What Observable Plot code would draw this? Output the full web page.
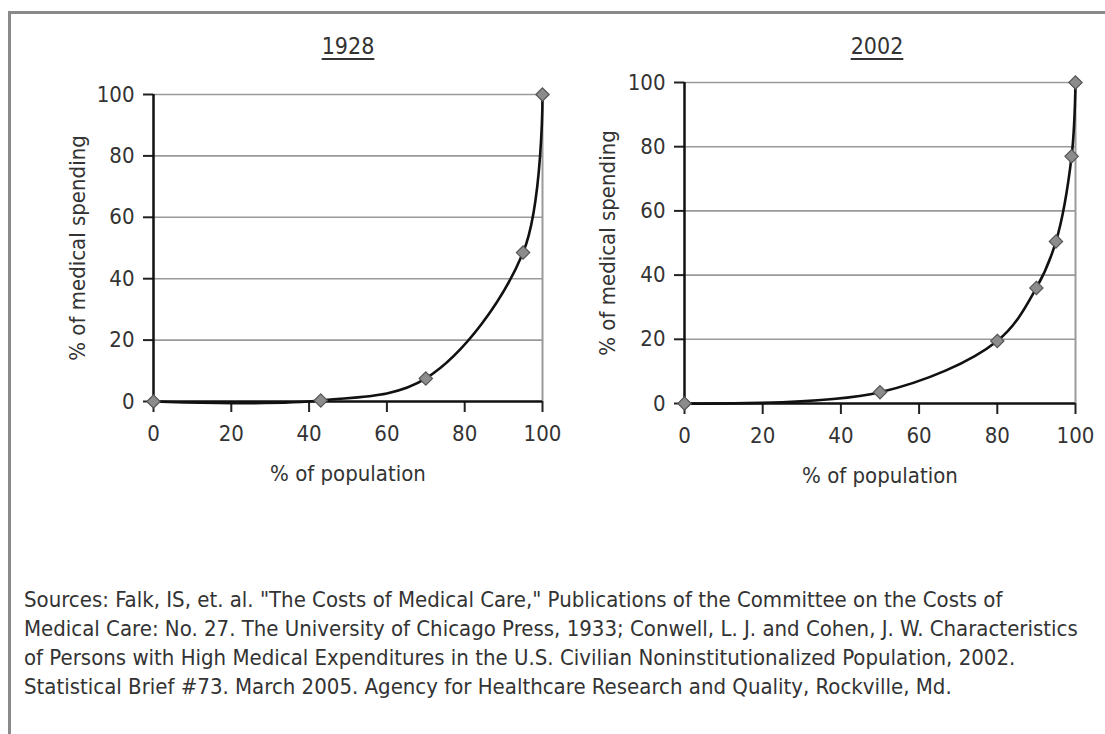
<!DOCTYPE html>
<html>
<head>
<meta charset="utf-8">
<script src="https://cdn.jsdelivr.net/npm/d3@7"></script>
<script src="https://cdn.jsdelivr.net/npm/@observablehq/plot@0.6"></script>
<style>
  html, body { margin: 0; padding: 0; background: #fff; }
  #page {
    position: relative; width: 1105px; height: 734px; overflow: hidden;
    font-family: "DejaVu Sans Condensed", "Liberation Sans Narrow", sans-serif;
    color: #333;
  }
  #frame {
    position: absolute; left: 8px; top: 11px; width: 1200px; height: 800px;
    border-left: 3px solid #8a8a8a; border-top: 3px solid #8a8a8a;
  }
  .panel { position: absolute; top: 0; }
  .title {
    position: absolute; top: 30px; font-size: 23px; text-decoration: underline;
    text-underline-offset: 4px; text-decoration-thickness: 1.5px; transform: translateX(-50%);
    white-space: nowrap; line-height: 32px;
  }
  #caption {
    position: absolute; left: 24px; top: 585px; width: 1080px;
    font-size: 22px; line-height: 29px; color: #333; white-space: nowrap;
  }
</style>
</head>
<body>
<div id="page">
  <div id="frame"></div>
  <div id="left" class="panel" style="left:0px"></div>
  <div id="right" class="panel" style="left:560px"></div>
  <div class="title" style="left:348px">1928</div>
  <div class="title" style="left:877px">2002</div>
  <div id="caption">Sources: Falk, IS, et. al. "The Costs of Medical Care," Publications of the Committee on the Costs of<br>Medical Care: No. 27. The University of Chicago Press, 1933; Conwell, L. J. and Cohen, J. W. Characteristics<br>of Persons with High Medical Expenditures in the U.S. Civilian Noninstitutionalized Population, 2002.<br>Statistical Brief #73. March 2005. Agency for Healthcare Research and Quality, Rockville, Md.</div>
</div>
<script>
// Cumulative share of medical spending against cumulative share of population
const pop1928 = [0, 43, 70, 95, 100];
const spend1928 = [0, 0.3, 7.5, 48.5, 100];
const pop2002 = [0, 50, 80, 90, 95, 99, 100];
const spend2002 = [0, 3.5, 19.5, 36, 50.5, 77, 100];

const xTicks = [0, 20, 40, 60, 80, 100];
const yTicks = [0, 20, 40, 60, 80, 100];
const xLabel = "% of population";
const yLabel = "% of medical spending";

const FONT = '"DejaVu Sans Condensed", "Liberation Sans Narrow", sans-serif';

function lorenzPanel(pop, spend, m) {
  const data = pop.map((p, i) => ({pop: p, spend: spend[i]}));
  return Plot.plot({
    width: m.width,
    height: m.height,
    marginLeft: m.left,
    marginRight: m.right,
    marginTop: m.top,
    marginBottom: m.bottom,
    style: {fontFamily: FONT, fontSize: "22px", color: "#333", background: "transparent", overflow: "visible"},
    x: {domain: [0, 100]},
    y: {domain: [0, 100]},
    marks: [
      Plot.gridY(yTicks.filter(d => d > 0), {stroke: "#9a9a9a", strokeOpacity: 1, strokeWidth: 1.6}),
      Plot.ruleX([100], {y1: 0, y2: 100, stroke: "#9a9a9a", strokeWidth: 2}),
      Plot.axisX(xTicks, {tickSize: 11, tickPadding: 13, stroke: "#222", strokeWidth: 2, label: null}),
      Plot.axisY(yTicks, {tickSize: 10, tickPadding: 9, stroke: "#222", strokeWidth: 2, label: null}),
      Plot.ruleY([0], {stroke: "#111", strokeWidth: 2.5}),
      Plot.ruleX([0], {stroke: "#111", strokeWidth: 2.5}),
      Plot.line(data, {x: "pop", y: "spend", curve: "catmull-rom", stroke: "#111", strokeWidth: 2.6}),
      Plot.dot(data, {x: "pop", y: "spend", symbol: "diamond2", r: 6, fill: "#8c8c8c", stroke: "#555", strokeWidth: 1.2}),
      Plot.text([xLabel], {frameAnchor: "bottom", lineAnchor: "middle", dy: 72, fontSize: 22, fill: "#333"}),
      Plot.text([yLabel], {frameAnchor: "left", textAnchor: "middle", lineAnchor: "middle", dx: m.yLabelDx, rotate: -90, fontSize: 22, fill: "#333"})
    ]
  });
}

document.getElementById("left").append(
  lorenzPanel(pop1928, spend1928, {width: 560, height: 520, left: 153, right: 18, top: 94, bottom: 119, yLabelDx: -76})
);
document.getElementById("right").append(
  lorenzPanel(pop2002, spend2002, {width: 545, height: 520, left: 124, right: 30, top: 82, bottom: 117, yLabelDx: -77})
);
</script>
</body>
</html>
